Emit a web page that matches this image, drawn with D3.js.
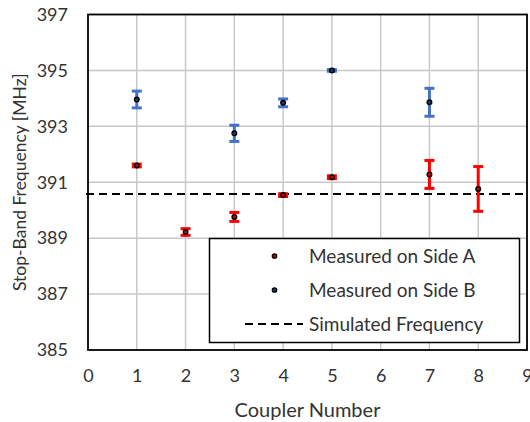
<!DOCTYPE html>
<html>
<head>
<meta charset="utf-8">
<script src="https://cdn.jsdelivr.net/npm/d3@7"></script>
<style>
  body { margin: 0; background: #fff; }
  text { font-family: Lato, "Open Sans", sans-serif; fill: #333; }
</style>
</head>
<body>
<svg id="chart"></svg>
<script>
// data
const sideA_x   = [1, 2, 3, 4, 5, 7, 8];
const sideA_y   = [391.6, 389.22, 389.76, 390.54, 391.18, 391.28, 390.76];
const sideA_err = [0.05, 0.12, 0.16, 0.05, 0.05, 0.5, 0.8];

const sideB_x   = [1, 3, 4, 5, 7];
const sideB_y   = [393.96, 392.75, 393.84, 395.0, 393.86];
const sideB_err = [0.3, 0.29, 0.14, 0.03, 0.5];

const simulatedFreq = 390.58;

const xTicks = [0, 1, 2, 3, 4, 5, 6, 7, 8, 9];
const yTicks = [385, 387, 389, 391, 393, 395, 397];
const legendLabels = ["Measured on Side A", "Measured on Side B", "Simulated Frequency"];

const width = 530, height = 422;
const margin = {left: 88, right: 3, top: 14.5, bottom: 72};

const svg = d3.select("#chart").attr("width", width).attr("height", height);

const x = d3.scaleLinear().domain([0, 9]).range([margin.left, width - margin.right]);
const y = d3.scaleLinear().domain([385, 397]).range([height - margin.bottom, margin.top]);

// grid
svg.append("g").selectAll("line").data(xTicks.slice(1, -1)).enter().append("line")
    .attr("x1", d => x(d)).attr("x2", d => x(d))
    .attr("y1", y(385)).attr("y2", y(397))
    .attr("stroke", "#c8c8c8").attr("stroke-width", 1.5);
svg.append("g").selectAll("line").data(yTicks.slice(1, -1)).enter().append("line")
    .attr("x1", x(0)).attr("x2", x(9))
    .attr("y1", d => y(d)).attr("y2", d => y(d))
    .attr("stroke", "#c8c8c8").attr("stroke-width", 1.5);

// axes (labels only, frame drawn separately)
const xAxis = svg.append("g")
    .attr("transform", "translate(0," + y(385) + ")")
    .call(d3.axisBottom(x).tickValues(xTicks).tickSize(0).tickPadding(19));
const yAxis = svg.append("g")
    .attr("transform", "translate(" + x(0) + ",0)")
    .call(d3.axisLeft(y).tickValues(yTicks).tickSize(0).tickPadding(20));
[xAxis, yAxis].forEach(a => {
    a.select(".domain").remove();
    a.selectAll("text").style("font-size", "18px").style("font-family", "Lato, 'Open Sans', sans-serif").attr("fill", "#333");
});

// dashed simulated line
svg.append("line")
    .attr("x1", x(0) - 2).attr("x2", x(9))
    .attr("y1", y(simulatedFreq)).attr("y2", y(simulatedFreq))
    .attr("stroke", "#000").attr("stroke-width", 2.2)
    .attr("stroke-dasharray", "8,5");

// error bars
const drawSeries = (xs, ys, errs, color, fill) => {
    const data = xs.map((d, i) => ({x: d, y: ys[i], e: errs[i]}));
    const g = svg.append("g");
    g.selectAll(".stem").data(data).enter().append("line")
        .attr("x1", d => x(d.x)).attr("x2", d => x(d.x))
        .attr("y1", d => y(d.y - d.e)).attr("y2", d => y(d.y + d.e))
        .attr("stroke", color).attr("stroke-width", 3);
    [-1, 1].forEach(s => {
        g.selectAll(".cap" + s).data(data).enter().append("line")
            .attr("x1", d => x(d.x) - 5).attr("x2", d => x(d.x) + 5)
            .attr("y1", d => y(d.y + s * d.e)).attr("y2", d => y(d.y + s * d.e))
            .attr("stroke", color).attr("stroke-width", 3);
    });
    g.selectAll("circle").data(data).enter().append("circle")
        .attr("cx", d => x(d.x)).attr("cy", d => y(d.y)).attr("r", 2.3)
        .attr("fill", fill).attr("stroke", "#000").attr("stroke-width", 1.4);
};
drawSeries(sideB_x, sideB_y, sideB_err, "#4472c4", "#1f3864");
drawSeries(sideA_x, sideA_y, sideA_err, "#ff0000", "#c00000");

// frame
svg.append("rect")
    .attr("x", x(0)).attr("y", y(397))
    .attr("width", x(9) - x(0)).attr("height", y(385) - y(397))
    .attr("fill", "none").attr("stroke", "#000").attr("stroke-width", 1.8);

// legend
const lg = svg.append("g");
lg.append("rect")
    .attr("x", 209.5).attr("y", 238.5).attr("width", 310).attr("height", 104)
    .attr("fill", "#fff").attr("stroke", "#000").attr("stroke-width", 1.5);
const rowY = [256, 290, 324];
const markerFill = ["#c00000", "#1f3864"];
legendLabels.forEach((lab, i) => {
    if (i < 2) {
        lg.append("circle").attr("cx", 274.5).attr("cy", rowY[i]).attr("r", 2.2)
            .attr("fill", markerFill[i]).attr("stroke", "#000").attr("stroke-width", 1.3);
    } else {
        lg.append("line").attr("x1", 245).attr("x2", 303)
            .attr("y1", rowY[i]).attr("y2", rowY[i])
            .attr("stroke", "#000").attr("stroke-width", 2.2).attr("stroke-dasharray", "8,5");
    }
    lg.append("text").attr("x", 309).attr("y", rowY[i]).attr("dy", "0.35em")
        .style("font-size", "19px").text(lab);
});

// axis titles
svg.append("text")
    .attr("x", (x(0) + x(9)) / 2).attr("y", 410).attr("dy", "0.35em")
    .attr("text-anchor", "middle").style("font-size", "20px").text("Coupler Number");
svg.append("text")
    .attr("transform", "translate(20," + (y(385) + y(397)) / 2 + ") rotate(-90)")
    .attr("dy", "0.35em")
    .attr("text-anchor", "middle").style("font-size", "17.5px").text("Stop-Band Frequency [MHz]");
</script>
</body>
</html>
